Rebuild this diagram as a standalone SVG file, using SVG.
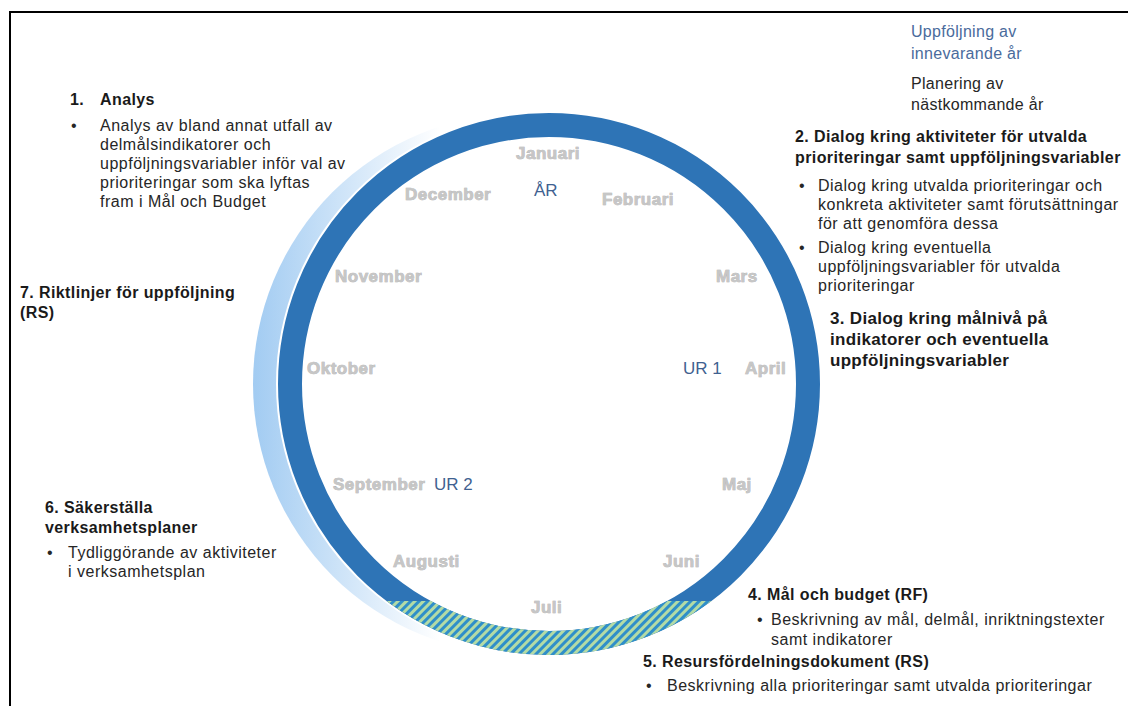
<svg xmlns="http://www.w3.org/2000/svg" width="1128" height="706" viewBox="0 0 1128 706">
  <style>
    text { font-family: "Liberation Sans", Arial, sans-serif; }
    .body { font-size: 16px; letter-spacing: 0.5px; fill: #262626; }
    .head { font-size: 16px; font-weight: bold; letter-spacing: 0.4px; fill: #1a1a1a; }
    .head3 { font-size: 17px; font-weight: bold; letter-spacing: 0.3px; fill: #1a1a1a; }
    .month { font-size: 17px; font-weight: bold; letter-spacing: 0.5px; fill: #c6c6c6; stroke: #a9a9a9; stroke-width: 0.6px; paint-order: stroke; }
    .blue { font-size: 17px; fill: #3f6190; }
    .legend { font-size: 16px; letter-spacing: 0.3px; }
  </style>
  <defs>
    <linearGradient id="crescentGrad" gradientUnits="userSpaceOnUse" x1="255" y1="0" x2="440" y2="0">
      <stop offset="0" stop-color="#a3ccf2"/>
      <stop offset="1" stop-color="#ffffff"/>
    </linearGradient>
    <pattern id="hatch" width="6" height="6" patternUnits="userSpaceOnUse" patternTransform="rotate(45)">
      <rect x="0" y="0" width="6" height="6" fill="#b3dba6"/>
      <rect x="0" y="0" width="3" height="6" fill="#2f8fc9"/>
    </pattern>
    <mask id="crescentMask">
      <rect x="0" y="0" width="1128" height="706" fill="white"/>
      <circle cx="549" cy="384" r="273" fill="black"/>
    </mask>
    <clipPath id="bottomClip">
      <rect x="0" y="601" width="1128" height="105"/>
    </clipPath>
  </defs>

  <rect x="0" y="0" width="1128" height="706" fill="#ffffff"/>
  <path d="M10,706 V12 H1128" fill="none" stroke="#000000" stroke-width="2"/>

  <g id="year-wheel">
    <circle cx="524" cy="384" r="271" fill="url(#crescentGrad)" mask="url(#crescentMask)"/>
    <circle cx="549" cy="384" r="259" fill="none" stroke="#2e74b6" stroke-width="24"/>
    <circle cx="549" cy="384" r="259" fill="none" stroke="url(#hatch)" stroke-width="24" clip-path="url(#bottomClip)"/>
  </g>

  <g id="months">
    <text class="month" x="516" y="159">Januari</text>
    <text class="month" x="602" y="205">Februari</text>
    <text class="month" x="716" y="282">Mars</text>
    <text class="month" x="745" y="374">April</text>
    <text class="month" x="722" y="490">Maj</text>
    <text class="month" x="663" y="567">Juni</text>
    <text class="month" x="531" y="613">Juli</text>
    <text class="month" x="393" y="567">Augusti</text>
    <text class="month" x="333" y="490">September</text>
    <text class="month" x="307" y="374">Oktober</text>
    <text class="month" x="335" y="282">November</text>
    <text class="month" x="405" y="200">December</text>
  </g>

  <g id="period-labels">
    <text class="blue" x="534" y="196">ÅR</text>
    <text class="blue" x="683" y="374">UR 1</text>
    <text class="blue" x="434" y="490">UR 2</text>
  </g>

  <g id="legend">
    <text class="legend" x="911" y="37" fill="#4a6b9c">Uppföljning av</text>
    <text class="legend" x="911" y="59" fill="#4a6b9c">innevarande år</text>
    <text class="legend" x="911" y="89" fill="#262626">Planering av</text>
    <text class="legend" x="911" y="110" fill="#262626">nästkommande år</text>
  </g>

  <g id="step1">
    <text class="head" x="70" y="105">1.</text>
    <text class="head" x="100" y="105">Analys</text>
    <text class="body" x="71" y="131">•</text>
    <text class="body" x="100" y="131">Analys av bland annat utfall av</text>
    <text class="body" x="100" y="150">delmålsindikatorer och</text>
    <text class="body" x="100" y="169">uppföljningsvariabler inför val av</text>
    <text class="body" x="100" y="188">prioriteringar som ska lyftas</text>
    <text class="body" x="100" y="207">fram i Mål och Budget</text>
  </g>

  <g id="step2">
    <text class="head" x="795" y="142">2. Dialog kring aktiviteter för utvalda</text>
    <text class="head" x="795" y="163">prioriteringar samt uppföljningsvariabler</text>
    <text class="body" x="799" y="191">•</text>
    <text class="body" x="818" y="191">Dialog kring utvalda prioriteringar och</text>
    <text class="body" x="818" y="210">konkreta aktiviteter samt förutsättningar</text>
    <text class="body" x="818" y="229">för att genomföra dessa</text>
    <text class="body" x="799" y="253">•</text>
    <text class="body" x="818" y="253">Dialog kring eventuella</text>
    <text class="body" x="818" y="272">uppföljningsvariabler för utvalda</text>
    <text class="body" x="818" y="291">prioriteringar</text>
  </g>

  <g id="step3">
    <text class="head3" x="830" y="324">3. Dialog kring målnivå på</text>
    <text class="head3" x="830" y="345">indikatorer och eventuella</text>
    <text class="head3" x="830" y="366">uppföljningsvariabler</text>
  </g>

  <g id="step4">
    <text class="head" x="748" y="600">4. Mål och budget (RF)</text>
    <text class="body" x="757" y="625">•</text>
    <text class="body" x="771" y="625">Beskrivning av mål, delmål, inriktningstexter</text>
    <text class="body" x="771" y="645">samt indikatorer</text>
  </g>

  <g id="step5">
    <text class="head" x="643" y="667">5. Resursfördelningsdokument (RS)</text>
    <text class="body" x="646" y="691">•</text>
    <text class="body" x="667" y="691">Beskrivning alla prioriteringar samt utvalda prioriteringar</text>
  </g>

  <g id="step6">
    <text class="head" x="45" y="513">6. Säkerställa</text>
    <text class="head" x="45" y="533">verksamhetsplaner</text>
    <text class="body" x="47" y="558">•</text>
    <text class="body" x="68" y="558">Tydliggörande av aktiviteter</text>
    <text class="body" x="68" y="577">i verksamhetsplan</text>
  </g>

  <g id="step7">
    <text class="head" x="20" y="298">7. Riktlinjer för uppföljning</text>
    <text class="head" x="20" y="318">(RS)</text>
  </g>

  <g id="connectors"/>
</svg>
